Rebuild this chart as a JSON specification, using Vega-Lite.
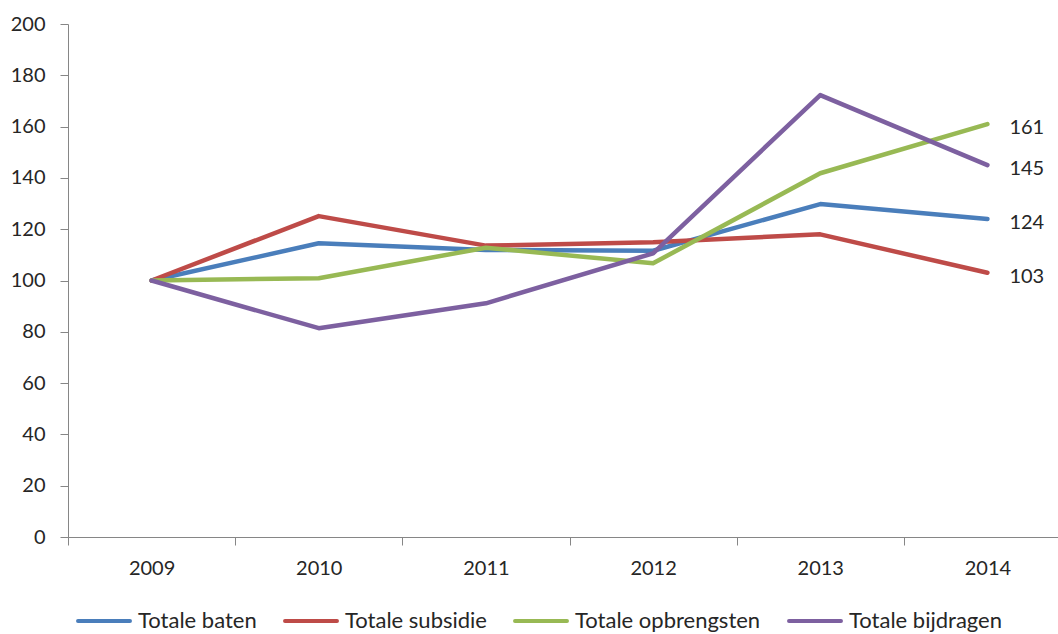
{
  "$schema": "https://vega.github.io/schema/vega-lite/v6.json",
  "width": 990,
  "height": 513,
  "autosize": {"type": "none"},
  "padding": {"left": 68, "top": 24, "right": 0, "bottom": 97},
  "background": "white",
  "config": {
    "view": {"stroke": null},
    "font": "Lato",
    "axis": {
      "domainColor": "#868686",
      "tickColor": "#868686",
      "domainWidth": 1,
      "tickWidth": 1,
      "tickSize": 8,
      "grid": false,
      "labelFont": "Lato",
      "labelFontSize": 20,
      "labelColor": "#262626",
      "title": null
    }
  },
  "data": {
    "values": [
      {"year": 2009, "series": "Totale baten", "value": 100},
      {"year": 2010, "series": "Totale baten", "value": 114.5},
      {"year": 2011, "series": "Totale baten", "value": 111.9},
      {"year": 2012, "series": "Totale baten", "value": 111.6},
      {"year": 2013, "series": "Totale baten", "value": 129.8},
      {"year": 2014, "series": "Totale baten", "value": 124},
      {"year": 2009, "series": "Totale subsidie", "value": 100},
      {"year": 2010, "series": "Totale subsidie", "value": 125.1},
      {"year": 2011, "series": "Totale subsidie", "value": 113.6},
      {"year": 2012, "series": "Totale subsidie", "value": 114.9},
      {"year": 2013, "series": "Totale subsidie", "value": 118.0},
      {"year": 2014, "series": "Totale subsidie", "value": 103},
      {"year": 2009, "series": "Totale opbrengsten", "value": 100},
      {"year": 2010, "series": "Totale opbrengsten", "value": 100.9},
      {"year": 2011, "series": "Totale opbrengsten", "value": 112.8},
      {"year": 2012, "series": "Totale opbrengsten", "value": 106.7},
      {"year": 2013, "series": "Totale opbrengsten", "value": 141.8},
      {"year": 2014, "series": "Totale opbrengsten", "value": 161},
      {"year": 2009, "series": "Totale bijdragen", "value": 100},
      {"year": 2010, "series": "Totale bijdragen", "value": 81.4},
      {"year": 2011, "series": "Totale bijdragen", "value": 91.1},
      {"year": 2012, "series": "Totale bijdragen", "value": 110.6},
      {"year": 2013, "series": "Totale bijdragen", "value": 172.3},
      {"year": 2014, "series": "Totale bijdragen", "value": 145}
    ]
  },
  "encoding": {
    "x": {
      "field": "year",
      "type": "ordinal",
      "scale": {"type": "band", "range": [0, 1003], "paddingInner": 0, "paddingOuter": 0},
      "axis": {"tickBand": "extent", "labelAngle": 0, "labelPadding": 13, "labelAlign": "center"}
    },
    "y": {
      "field": "value",
      "type": "quantitative",
      "scale": {"domain": [0, 200], "nice": false, "zero": true},
      "axis": {"values": [0, 20, 40, 60, 80, 100, 120, 140, 160, 180, 200], "labelPadding": 15}
    },
    "color": {
      "field": "series",
      "type": "nominal",
      "scale": {
        "domain": ["Totale baten", "Totale subsidie", "Totale opbrengsten", "Totale bijdragen"],
        "range": ["#4A7EBB", "#BE4B48", "#98B954", "#7D60A0"]
      },
      "legend": {
        "orient": "none",
        "direction": "horizontal",
        "legendX": 8,
        "legendY": 569,
        "title": null,
        "symbolType": "stroke",
        "symbolSize": 2700,
        "symbolStrokeWidth": 4,
        "labelFont": "Lato",
        "labelFontSize": 22,
        "labelColor": "#262626",
        "labelOffset": 6,
        "columnPadding": 20,
        "labelLimit": 300,
        "encode": {"symbols": {"update": {"strokeCap": {"value": "round"}}}}
      }
    }
  },
  "layer": [
    {
      "mark": {"type": "line", "strokeWidth": 4.5, "strokeJoin": "round", "strokeCap": "round"}
    },
    {
      "transform": [{"filter": "datum.year == 2014"}],
      "mark": {"type": "text", "align": "left", "baseline": "middle", "dx": 22, "dy": 4, "fontSize": 20, "font": "Lato", "color": "#262626"},
      "encoding": {
        "text": {"field": "value", "type": "quantitative", "format": "d"},
        "color": {"value": "#262626"}
      }
    }
  ]
}
